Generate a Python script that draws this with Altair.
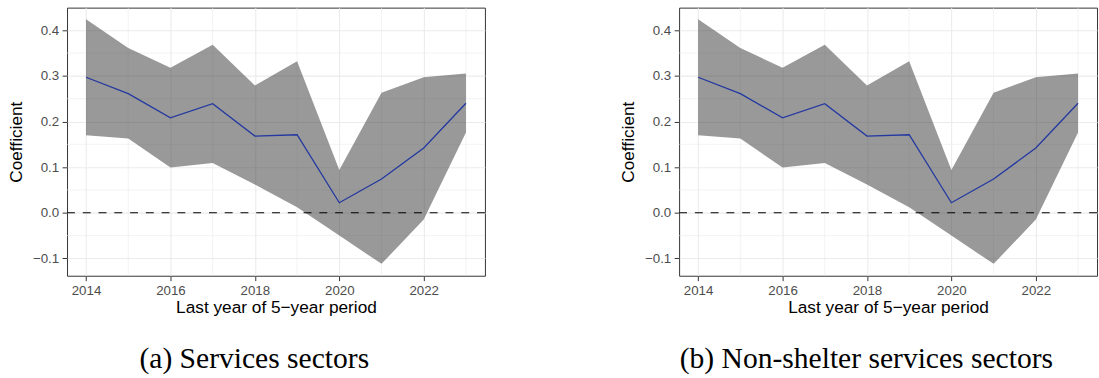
import altair as alt
import pandas as pd

# Rolling 5-year regressions: coefficient with its confidence band
years = [2014, 2015, 2016, 2017, 2018, 2019, 2020, 2021, 2022, 2023]

services_coef = [0.297, 0.261, 0.208, 0.239, 0.168, 0.171, 0.022, 0.074, 0.142, 0.240]
services_lower = [0.170, 0.163, 0.099, 0.109, 0.062, 0.012, -0.050, -0.112, -0.015, 0.176]
services_upper = [0.424, 0.361, 0.318, 0.368, 0.279, 0.332, 0.094, 0.263, 0.297, 0.305]

nonshelter_coef = [0.297, 0.261, 0.208, 0.239, 0.168, 0.171, 0.022, 0.074, 0.142, 0.240]
nonshelter_lower = [0.170, 0.163, 0.099, 0.109, 0.062, 0.012, -0.050, -0.112, -0.015, 0.176]
nonshelter_upper = [0.424, 0.361, 0.318, 0.368, 0.279, 0.332, 0.094, 0.263, 0.297, 0.305]

captions = ["(a) Services sectors", "(b) Non-shelter services sectors"]

x_ticks = [2014, 2016, 2018, 2020, 2022]
x_minor = [2015, 2017, 2019, 2021, 2023]
y_ticks = [-0.1, 0.0, 0.1, 0.2, 0.3, 0.4]
y_minor = [-0.05, 0.05, 0.15, 0.25, 0.35]
reference_level = [0.0]

X_DOMAIN = [2013.55, 2023.45]
Y_DOMAIN = [-0.138, 0.4496]

X_TITLE = "Last year of 5\u2212year period"
Y_TITLE = "Coefficient"

GRID = "#ebebeb"


def xenc(field):
    return alt.X(
        f"{field}:Q",
        scale=alt.Scale(domain=X_DOMAIN, nice=False, zero=False),
        axis=alt.Axis(values=x_ticks, format="d", title=X_TITLE,
                      labelPadding=3, titlePadding=2),
    )


def yenc(field):
    return alt.Y(
        f"{field}:Q",
        scale=alt.Scale(domain=Y_DOMAIN, nice=False, zero=False),
        axis=alt.Axis(values=y_ticks, format=".1f", title=Y_TITLE,
                      labelPadding=3.5, titlePadding=7),
    )


def panel(coef, lower, upper, caption):
    df = pd.DataFrame({"year": years, "coef": coef, "lower": lower, "upper": upper})

    minor_v = alt.Chart(pd.DataFrame({"year": x_minor})).mark_rule(
        color=GRID, strokeWidth=0.6
    ).encode(x=xenc("year"))

    minor_h = alt.Chart(pd.DataFrame({"coef": y_minor})).mark_rule(
        color=GRID, strokeWidth=0.6
    ).encode(y=yenc("coef"))

    band = alt.Chart(df).mark_area(color="#333333", opacity=0.5).encode(
        x=xenc("year"), y=yenc("lower"), y2="upper"
    )

    line = alt.Chart(df).mark_line(color="#2338a0", strokeWidth=1.3).encode(
        x=xenc("year"), y=yenc("coef")
    )

    zero = alt.Chart(pd.DataFrame({"coef": reference_level})).mark_rule(
        color="black", strokeWidth=1.1, strokeDash=[8, 8]
    ).encode(y=yenc("coef"))

    return alt.layer(minor_v, minor_h, band, line, zero).properties(
        width=424,
        height=272,
        title=alt.TitleParams(
            caption,
            orient="bottom",
            anchor="middle",
            frame="group",
            dx=-22,
            offset=29,
            font="Liberation Serif",
            fontSize=30,
            fontWeight="normal",
            color="black",
        ),
    )


left = panel(services_coef, services_lower, services_upper, captions[0])
right = panel(nonshelter_coef, nonshelter_lower, nonshelter_upper, captions[1])

chart = alt.hconcat(left, right, spacing=134).properties(
    padding={"left": 7, "top": 4, "right": 0, "bottom": 0},
    background="white",
).configure_view(
    stroke="#333333", strokeWidth=1
).configure_axis(
    domain=False,
    grid=True,
    gridColor=GRID,
    gridWidth=1.1,
    tickColor="#333333",
    tickSize=5,
    tickWidth=1,
    labelFont="Liberation Sans",
    labelFontSize=13.5,
    labelColor="#4d4d4d",
    titleFont="Liberation Sans",
    titleFontSize=17.5,
    titleFontWeight="normal",
    titleColor="black",
)

chart.save("out.html", embed_options={"renderer": "svg", "actions": False})
